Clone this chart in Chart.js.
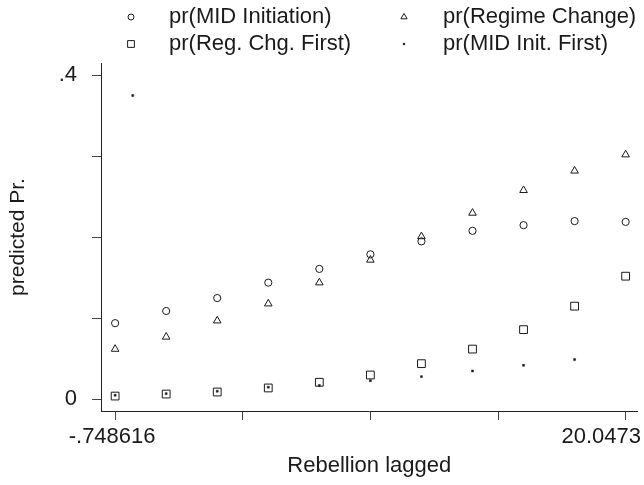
<!DOCTYPE html>
<html>
<head>
<meta charset="utf-8">
<script src="https://cdn.jsdelivr.net/npm/chart.js@4.4.1/dist/chart.umd.min.js"></script>
<style>
html,body{margin:0;padding:0;background:#fff;overflow:hidden;}
canvas{display:block;}
</style>
</head>
<body>
<canvas id="c" width="644" height="485"></canvas>
<script>
// ---- data ----
const xValues = [-0.748616, 1.330976, 3.410567, 5.490159, 7.569750, 9.649342, 11.728934, 13.808525, 15.888117, 17.967708, 20.0473];
const midInitiation = [0.094, 0.109, 0.125, 0.144, 0.161, 0.179, 0.195, 0.208, 0.215, 0.220, 0.219];
const regimeChange  = [0.062, 0.077, 0.097, 0.118, 0.144, 0.172, 0.201, 0.230, 0.258, 0.282, 0.302];
const regChgFirst   = [0.004, 0.0065, 0.009, 0.014, 0.021, 0.030, 0.044, 0.062, 0.086, 0.115, 0.152];
const midInitFirstX = [-0.03, -0.748616, 1.330976, 3.410567, 5.490159, 7.569750, 9.649342, 11.728934, 13.808525, 15.888117, 17.967708];
const midInitFirstY = [0.375, 0.005, 0.007, 0.010, 0.015, 0.017, 0.023, 0.028, 0.035, 0.042, 0.049];
const seriesLabels = ['pr(MID Initiation)', 'pr(Regime Change)', 'pr(Reg. Chg. First)', 'pr(MID Init. First)'];
const xTickValues = [-0.748616, 4.450363, 9.649342, 14.848321, 20.0473];
const xTickLabels = ['-.748616', '', '', '', '20.0473'];
const yTickValues = [0, 0.1, 0.2, 0.3, 0.4];
const yTickLabels = ['0', '', '', '', '.4'];
const xTitle = 'Rebellion lagged';
const yTitle = 'predicted Pr.';

const FONT = "'Liberation Sans', Arial, Helvetica, sans-serif";
const INK = '#1a1a1a';

const pts = (xs, ys) => xs.map((x, i) => ({x: x, y: ys[i]}));

const legendPlugin = {
  id: 'twoColLegend',
  afterDraw(chart) {
    const ctx = chart.ctx;
    const symX = [131, 404], txtX = [169, 443], rowY = [17, 44];
    const legendRadius = [3, 3.6, 4.8, 1.0];
    chart.data.datasets.forEach((ds, i) => {
      const col = i % 2, row = Math.floor(i / 2);
      ctx.save();
      ctx.strokeStyle = INK;
      ctx.fillStyle = ds.backgroundColor;
      ctx.lineWidth = 1;
      Chart.helpers.drawPoint(ctx, {pointStyle: ds.pointStyle, radius: legendRadius[i], rotation: 0, borderWidth: 1}, symX[col], rowY[row]);
      ctx.restore();
      ctx.save();
      ctx.fillStyle = INK;
      ctx.font = '22px ' + FONT;
      ctx.textBaseline = 'middle';
      ctx.textAlign = 'left';
      ctx.fillText(ds.label, txtX[col], rowY[row]);
      ctx.restore();
    });
  }
};

const placeEndXLabels = {
  id: 'placeEndXLabels',
  beforeDraw(chart) {
    const items = chart.scales.x.getLabelItems();
    items.forEach(it => {
      if (it.label === xTickLabels[0]) {
        it.options.textAlign = 'center';
        it.options.translation = [it.options.translation[0] - 3, it.options.translation[1]];
      } else if (it.label === xTickLabels[xTickLabels.length - 1]) {
        it.options.textAlign = 'right';
        it.options.translation = [641, it.options.translation[1]];
      }
    });
  }
};

new Chart(document.getElementById('c'), {
  type: 'scatter',
  data: {
    datasets: [
      {label: seriesLabels[0], data: pts(xValues, midInitiation), pointStyle: 'circle', pointRadius: 3.6, borderColor: INK, backgroundColor: 'rgba(0,0,0,0)', borderWidth: 1},
      {label: seriesLabels[1], data: pts(xValues, regimeChange), pointStyle: 'triangle', pointRadius: 4.4, borderColor: INK, backgroundColor: 'rgba(0,0,0,0)', borderWidth: 1},
      {label: seriesLabels[2], data: pts(xValues, regChgFirst), pointStyle: 'rect', pointRadius: 5.5, borderColor: INK, backgroundColor: 'rgba(0,0,0,0)', borderWidth: 1},
      {label: seriesLabels[3], data: pts(midInitFirstX, midInitFirstY), pointStyle: 'rect', pointRadius: 1.4, borderColor: INK, backgroundColor: INK, borderWidth: 0.5}
    ]
  },
  options: {
    responsive: false,
    animation: false,
    devicePixelRatio: 1,
    layout: {padding: {top: 63, left: 0, right: 0, bottom: 0}},
    plugins: {legend: {display: false}, tooltip: {enabled: false}},
    scales: {
      x: {
        type: 'linear',
        min: -1.3238,
        max: 20.53,
        afterBuildTicks: s => { s.ticks = xTickValues.map(v => ({value: v})); },
        afterFit: s => { s.height = 74; },
        ticks: {
          autoSkip: false, maxRotation: 0, padding: 4, align: 'inner',
          color: INK, font: {family: FONT, size: 22},
          callback: (v, i) => xTickLabels[i]
        },
        grid: {display: true, drawOnChartArea: false, tickLength: 9, color: '#444', lineWidth: 1},
        border: {display: true, color: '#222', width: 1},
        title: {display: true, text: xTitle, color: INK, font: {family: FONT, size: 22}, padding: {top: 0, bottom: 6}}
      },
      y: {
        type: 'linear',
        min: -0.01444,
        max: 0.41519,
        afterBuildTicks: s => { s.ticks = yTickValues.map(v => ({value: v})); },
        afterFit: s => { s.width = 101; },
        ticks: {
          autoSkip: false, padding: 15,
          color: INK, font: {family: FONT, size: 22},
          callback: (v, i) => yTickLabels[i]
        },
        grid: {display: true, drawOnChartArea: false, tickLength: 9, color: '#444', lineWidth: 1},
        border: {display: true, color: '#222', width: 1},
        title: {display: true, text: yTitle, color: INK, font: {family: FONT, size: 21}, padding: {top: 6, bottom: 0}}
      }
    }
  },
  plugins: [legendPlugin, placeEndXLabels]
});
</script>
</body>
</html>
